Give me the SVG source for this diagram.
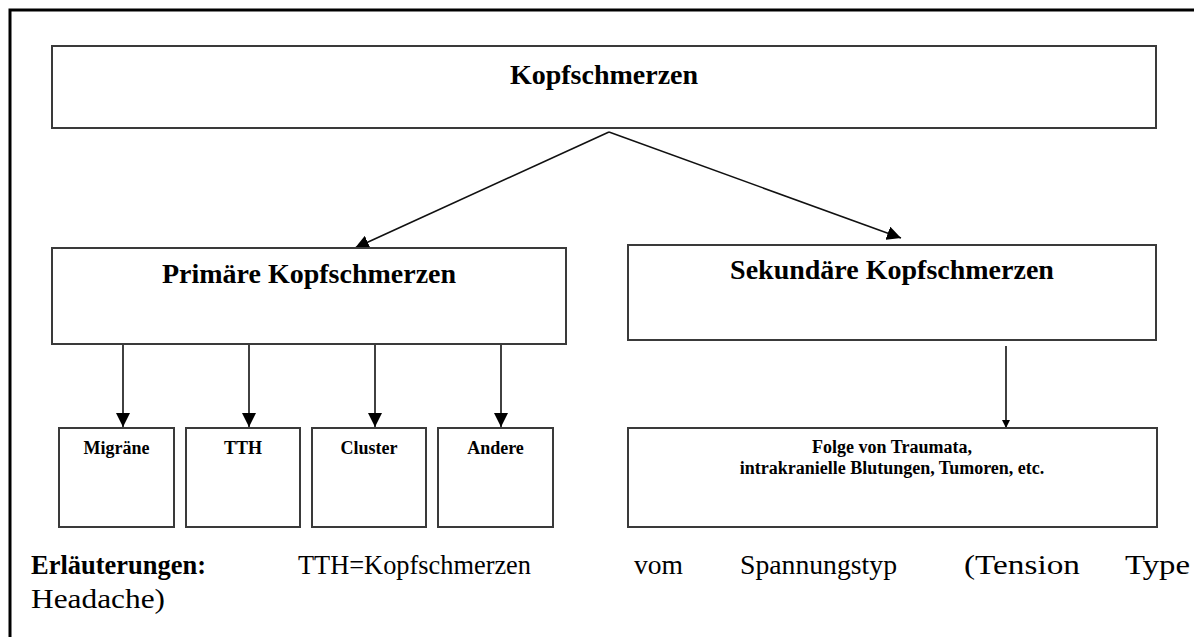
<svg xmlns="http://www.w3.org/2000/svg" width="1194" height="637" viewBox="0 0 1194 637">
  <defs>
    <style>
      .box { fill: #ffffff; stroke: #3a3a3a; stroke-width: 2; }
      .conn { fill: none; stroke: #111; stroke-width: 1.6; }
      .lbl { font-family: "Liberation Serif", "Times New Roman", serif; font-weight: bold; fill: #000; text-anchor: middle; }
      .big { font-size: 28px; }
      .small { font-size: 18px; }
      .note { font-family: "Liberation Serif", "Times New Roman", serif; font-size: 28px; fill: #000; }
    </style>
    <marker id="arr" viewBox="0 0 10 10" refX="10" refY="5" markerWidth="14" markerHeight="14" markerUnits="userSpaceOnUse" orient="auto">
      <path d="M0,0 L10,5 L0,10 z" fill="#000"/>
    </marker>
    <marker id="arrSmall" viewBox="0 0 10 10" refX="10" refY="5" markerWidth="8" markerHeight="10" markerUnits="userSpaceOnUse" orient="auto">
      <path d="M0,0 L10,5 L0,10 z" fill="#000"/>
    </marker>
  </defs>
  <rect width="1194" height="637" fill="#ffffff"/>
  <path d="M10,637 L10,10 L1194,10" fill="none" stroke="#000" stroke-width="3"/>

  <g id="connectors">
    <line class="conn" x1="609" y1="132" x2="355" y2="248" marker-end="url(#arr)"/>
    <line class="conn" x1="609" y1="132" x2="901" y2="238" marker-end="url(#arr)"/>
    <line class="conn" x1="123" y1="344" x2="123" y2="427" marker-end="url(#arr)"/>
    <line class="conn" x1="249" y1="344" x2="249" y2="427" marker-end="url(#arr)"/>
    <line class="conn" x1="375" y1="344" x2="375" y2="427" marker-end="url(#arr)"/>
    <line class="conn" x1="501" y1="344" x2="501" y2="427" marker-end="url(#arr)"/>
    <line class="conn" x1="1006" y1="346" x2="1006" y2="428" marker-end="url(#arrSmall)"/>
  </g>

  <g id="kopfschmerzen">
    <rect class="box" x="52" y="46" width="1104" height="82"/>
    <text class="lbl big" x="604" y="84">Kopfschmerzen</text>
  </g>
  <g id="primaere">
    <rect class="box" x="52" y="248" width="514" height="96"/>
    <text class="lbl big" x="309" y="283">Primäre Kopfschmerzen</text>
  </g>
  <g id="sekundaere">
    <rect class="box" x="628" y="245" width="528" height="95"/>
    <text class="lbl big" x="892" y="279">Sekundäre Kopfschmerzen</text>
  </g>
  <g id="migraene">
    <rect class="box" x="59" y="428" width="115" height="99"/>
    <text class="lbl small" x="116.5" y="454">Migräne</text>
  </g>
  <g id="tth">
    <rect class="box" x="186" y="428" width="114" height="99"/>
    <text class="lbl small" x="243" y="454">TTH</text>
  </g>
  <g id="cluster">
    <rect class="box" x="312" y="428" width="114" height="99"/>
    <text class="lbl small" x="369" y="454">Cluster</text>
  </g>
  <g id="andere">
    <rect class="box" x="438" y="428" width="115" height="99"/>
    <text class="lbl small" x="495.5" y="454">Andere</text>
  </g>
  <g id="folge">
    <rect class="box" x="628" y="428" width="529" height="99"/>
    <text class="lbl small" x="892" y="453">Folge von Traumata,</text>
    <text class="lbl small" x="892" y="474">intrakranielle Blutungen, Tumoren, etc.</text>
  </g>

  <g id="legend">
    <text class="note" x="31" y="574" font-weight="bold" textLength="175" lengthAdjust="spacingAndGlyphs">Erläuterungen:</text>
    <text class="note" x="298" y="574" textLength="233" lengthAdjust="spacingAndGlyphs">TTH=Kopfschmerzen</text>
    <text class="note" x="634" y="574" textLength="49" lengthAdjust="spacingAndGlyphs">vom</text>
    <text class="note" x="740" y="574" textLength="157" lengthAdjust="spacingAndGlyphs">Spannungstyp</text>
    <text class="note" x="964" y="574" textLength="116" lengthAdjust="spacingAndGlyphs">(Tension</text>
    <text class="note" x="1125" y="574" textLength="65" lengthAdjust="spacingAndGlyphs">Type</text>
    <text class="note" x="31" y="608" textLength="134" lengthAdjust="spacingAndGlyphs">Headache)</text>
  </g>
</svg>
